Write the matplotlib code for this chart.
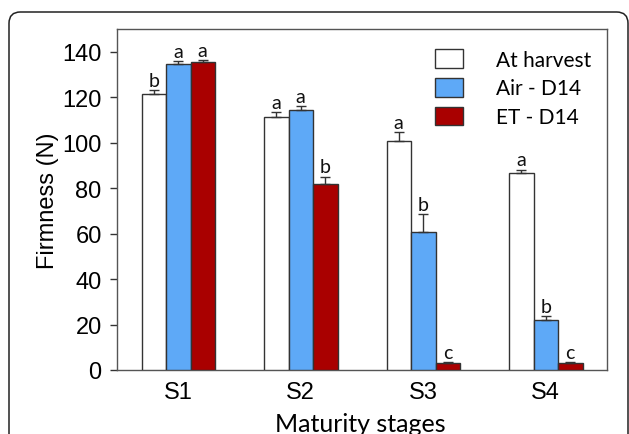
import numpy as np
import matplotlib
matplotlib.use("Agg")
from matplotlib import pyplot as plt
from matplotlib.patches import FancyBboxPatch

stages = ["S1", "S2", "S3", "S4"]
series = ["At harvest", "Air - D14", "ET - D14"]
harvest = [121.3, 111.2, 100.8, 86.6]
air = [134.6, 114.4, 60.8, 22.1]
et = [135.6, 82.0, 3.0, 3.0]
harvest_err = [1.8, 2.3, 3.7, 1.5]
air_err = [1.2, 1.6, 7.8, 1.5]
et_err = [0.6, 3.1, 0.5, 0.4]
harvest_sig = ["b", "a", "a", "a"]
air_sig = ["a", "a", "b", "b"]
et_sig = ["a", "b", "c", "c"]

colors = ["white", "#5ea9f7", "#a90000"]
edge = "#333333"
label_font = "Lato"
tick_font = "Liberation Sans"

fig = plt.figure(figsize=(6.29, 4.35), dpi=100)
ax = fig.add_axes([117 / 629, 1 - 371 / 435, 490 / 629, 341 / 435])

# rounded frame round the whole figure (bottom runs off the picture)
frame = FancyBboxPatch(
    (9 / 629, -0.2), 619 / 629, 1 - 13 / 435 + 0.2,
    boxstyle="round,pad=0,rounding_size=0.018",
    transform=fig.transFigure, facecolor="none", edgecolor="#222222",
    linewidth=1.1, clip_on=False, mutation_aspect=629 / 435,
)
fig.patches.append(frame)

x = np.arange(len(stages))
w = 0.2
groups = [(harvest, harvest_err, harvest_sig), (air, air_err, air_sig), (et, et_err, et_sig)]
for k, (vals, errs, sig) in enumerate(groups):
    pos = x + (k - 1) * w
    ax.bar(pos, vals, width=w, color=colors[k], edgecolor=edge, linewidth=1.0,
           label=series[k], zorder=3)
    ax.errorbar(pos, vals, yerr=[np.zeros(len(vals)), errs], fmt="none",
                ecolor=edge, elinewidth=1.0, capsize=3.6, capthick=1.0, zorder=4)
    for p, v, e, s in zip(pos, vals, errs, sig):
        ax.annotate(s, (p, v + e), xytext=(0, 1), textcoords="offset points",
                    ha="center", va="bottom", fontsize=14,
                    family=label_font, color="#111111")

ax.set_xlim(-0.5, 3.5)
ax.set_ylim(0, 150)
ax.set_yticks(range(0, 141, 20))
ax.set_xticks(x)
ax.set_xticklabels(stages)
ax.tick_params(axis="x", length=0, pad=8, labelsize=17, labelfontfamily=tick_font)
ax.tick_params(axis="y", length=5, width=1.0, color=edge, pad=6, labelsize=17,
               labelfontfamily=tick_font)
for sp in ax.spines.values():
    sp.set_color("#555555")
    sp.set_linewidth(1.0)

ax.set_ylabel("Firmness (N)", fontsize=17, family=tick_font)
ax.yaxis.set_label_coords(-0.118, 0.5)
ax.set_xlabel("Maturity stages", fontsize=18, family=label_font)
ax.xaxis.set_label_coords(0.496, -0.122)

leg = ax.legend(loc="upper left", bbox_to_anchor=(0.649, 0.94), frameon=False,
                prop={"family": label_font, "size": 15}, handlelength=1.35,
                handleheight=0.98, handletextpad=1.6, labelspacing=0.4,
                borderpad=0, borderaxespad=0)

fig.savefig("out.png", dpi=100)
